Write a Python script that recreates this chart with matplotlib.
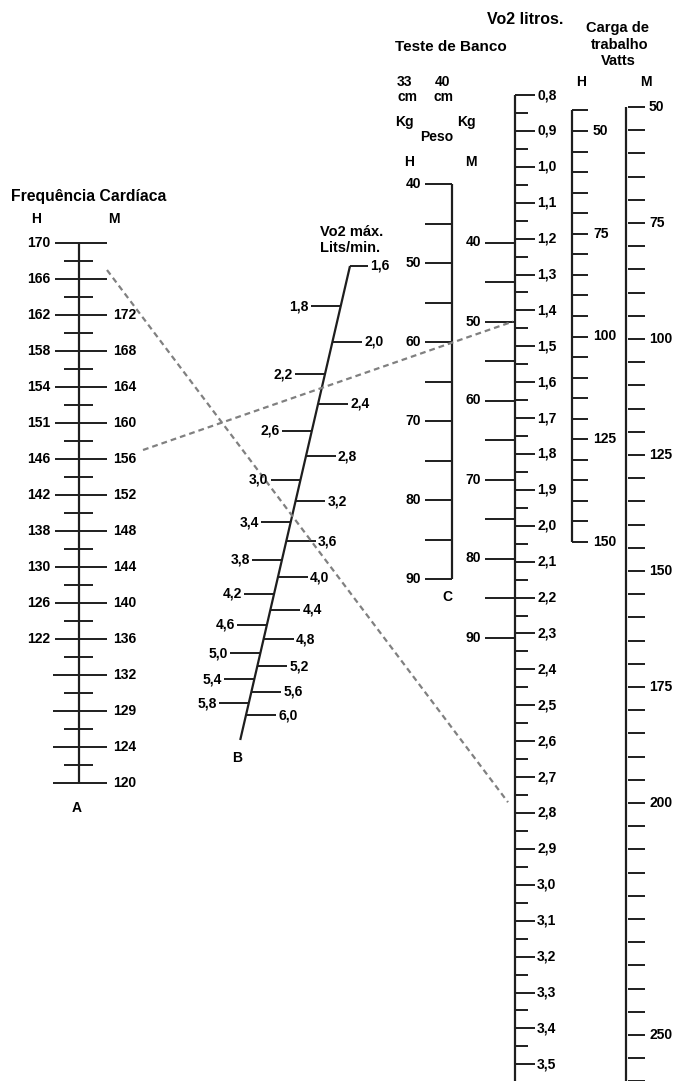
import numpy as np
import matplotlib.pyplot as plt

plt.rcParams['font.family'] = ['Liberation Sans', 'DejaVu Sans']
plt.rcParams['font.weight'] = 'bold'

# escala A - frequência cardíaca, um rótulo por traço principal
fc_homens = ['170', '166', '162', '158', '154', '151', '146', '142', '138', '130', '126', '122', '', '', '', '']
fc_mulheres = ['', '', '172', '168', '164', '160', '156', '152', '148', '144', '140', '136', '132', '129', '124', '120']

# escala B - VO2 máx (l/min)
vo2_max = [1.6, 1.8, 2.0, 2.2, 2.4, 2.6, 2.8, 3.0, 3.2, 3.4, 3.6, 3.8,
           4.0, 4.2, 4.4, 4.6, 4.8, 5.0, 5.2, 5.4, 5.6, 5.8, 6.0]

# escala C - peso (kg), teste de banco
peso_traco = [40, 45, 50, 55, 60, 65, 70, 75, 80, 85, 90]
peso_rotulo = [40, 50, 60, 70, 80, 90]

# VO2 litros
vo2_litros = [0.8, 0.9, 1.0, 1.1, 1.2, 1.3, 1.4, 1.5, 1.6, 1.7, 1.8, 1.9, 2.0, 2.1,
              2.2, 2.3, 2.4, 2.5, 2.6, 2.7, 2.8, 2.9, 3.0, 3.1, 3.2, 3.3, 3.4, 3.5]

# carga de trabalho (watts)
carga_h_rotulo = [50, 75, 100, 125, 150]
carga_m_rotulo = [50, 75, 100, 125, 150, 175, 200, 250]

# exemplos tracejados: (linha na escala A, leitura final)
exemplo1 = (0.75, 2.77)   # -> VO2 litros
exemplo2 = (5.75, 50)     # -> peso M

cor = '#1e1e1e'
fs = 10

fig = plt.figure(figsize=(6.79, 10.81), dpi=100)
ax = fig.add_axes([0, 0, 1, 1])
ax.set_xlim(0, 679)
ax.set_ylim(1081, 0)
ax.axis('off')


def seg(x0, x1, y0, y1, lw=1.4):
    ax.plot([x0, x1], [y0, y1], color=cor, lw=lw, solid_capstyle='butt')


def virg(v):
    return f'{v:.1f}'.replace('.', ',')


# ---- escala A
xa = 79
ya = lambda i: 243 + 36 * i
seg(xa, xa, ya(0), ya(15), lw=1.6)
for i in range(16):
    esq = 24 if fc_homens[i] else 26
    seg(xa - esq, xa + 28, ya(i), ya(i))
    if fc_homens[i]:
        ax.text(xa - 29, ya(i), fc_homens[i], ha='right', va='center', fontsize=fs)
    if fc_mulheres[i]:
        ax.text(xa + 34, ya(i), fc_mulheres[i], ha='left', va='center', fontsize=fs)
for i in range(15):
    seg(xa - 15, xa + 14, ya(i + 0.5), ya(i + 0.5))
ax.text(89, 197, 'Frequência Cardíaca', ha='center', va='center', fontsize=11.3)
ax.text(36, 219, 'H', ha='center', va='center', fontsize=fs)
ax.text(114, 219, 'M', ha='center', va='center', fontsize=fs)
ax.text(77, 808, 'A', ha='center', va='center', fontsize=fs)

# ---- escala B (log, inclinada)
yb = lambda v: 266 + 449 * np.log(v / 1.6) / np.log(6.0 / 1.6)
xb = lambda y: 350 - 0.2316 * (y - 266)
seg(xb(266), xb(740), 266, 740, lw=1.6)
for k, v in enumerate(vo2_max):
    y = yb(v)
    x = xb(y)
    if k == 0:
        seg(x, x + 18, y, y)
        ax.text(x + 20, y, virg(v), ha='left', va='center', fontsize=fs)
    elif k % 2:
        seg(x - 30, x, y, y)
        ax.text(x - 32, y, virg(v), ha='right', va='center', fontsize=fs)
    else:
        seg(x, x + 30, y, y)
        ax.text(x + 32, y, virg(v), ha='left', va='center', fontsize=fs)
ax.text(320, 232, 'Vo2 máx.', ha='left', va='center', fontsize=10.5)
ax.text(320, 248, 'Lits/min.', ha='left', va='center', fontsize=10.5)
ax.text(237, 758, 'B', ha='center', va='center', fontsize=fs)

# ---- escala C (peso H, 33 cm)
xc = 452
yc = lambda kg: 184 + 7.9 * (kg - 40)
seg(xc, xc, yc(40), yc(90), lw=1.6)
for kg in peso_traco:
    seg(xc - 27, xc, yc(kg), yc(kg))
for kg in peso_rotulo:
    ax.text(xc - 31, yc(kg), str(kg), ha='right', va='center', fontsize=fs)
ax.text(447, 597, 'C', ha='center', va='center', fontsize=fs)

# ---- peso M (40 cm) e VO2 litros
xl = 515
yp = lambda kg: 242.5 + 7.9 * (kg - 40)
for kg in peso_traco:
    seg(xl - 30, xl, yp(kg), yp(kg))
for kg in peso_rotulo:
    ax.text(xl - 34, yp(kg), str(kg), ha='right', va='center', fontsize=fs)

yl = lambda v: 95 + 359 * (v - 0.8)
seg(xl, xl, yl(0.8), 1081, lw=1.6)
for v in vo2_litros:
    seg(xl, xl + 20, yl(v), yl(v))
    ax.text(xl + 22, yl(v), virg(v), ha='left', va='center', fontsize=fs)
for v in np.arange(0.85, 3.6, 0.1):
    seg(xl, xl + 13, yl(v), yl(v))

# ---- carga de trabalho
xh = 572
yh = lambda w: 131 + 4.11 * (w - 50)
seg(xh, xh, yh(45), yh(150), lw=1.6)
for w in np.arange(45, 151, 5):
    seg(xh, xh + 16, yh(w), yh(w))
for w in carga_h_rotulo:
    ax.text(xh + 21, yh(w), str(w), ha='left', va='center', fontsize=fs)

xm = 626
ym = lambda w: 107 + 4.64 * (w - 50)
seg(xm, xm, ym(50), 1081, lw=1.6)
for w in np.arange(50, 261, 5):
    seg(xm + 2, xm + 19, ym(w), ym(w))
for w in carga_m_rotulo:
    ax.text(xm + 23, ym(w), str(w), ha='left', va='center', fontsize=fs)

# ---- cabeçalhos
ax.text(487, 20, 'Vo2 litros.', ha='left', va='center', fontsize=11.5)
ax.text(395, 47, 'Teste de Banco', ha='left', va='center', fontsize=11)
ax.text(618, 28, 'Carga de', ha='center', va='center', fontsize=10.5)
ax.text(620, 45, 'trabalho', ha='center', va='center', fontsize=10.5)
ax.text(618, 61, 'Vatts', ha='center', va='center', fontsize=10.5)
ax.text(581, 82, 'H', ha='center', va='center', fontsize=fs)
ax.text(646, 82, 'M', ha='center', va='center', fontsize=fs)
ax.text(397, 82, '33', ha='left', va='center', fontsize=fs)
ax.text(435, 82, '40', ha='left', va='center', fontsize=fs)
ax.text(397, 97, 'cm', ha='left', va='center', fontsize=fs)
ax.text(433, 97, 'cm', ha='left', va='center', fontsize=fs)
ax.text(395, 122, 'Kg', ha='left', va='center', fontsize=fs)
ax.text(457, 122, 'Kg', ha='left', va='center', fontsize=fs)
ax.text(420, 137, 'Peso', ha='left', va='center', fontsize=fs)
ax.text(409, 162, 'H', ha='center', va='center', fontsize=fs)
ax.text(471, 162, 'M', ha='center', va='center', fontsize=fs)

# ---- linhas de exemplo
tr = dict(color='#808080', lw=1.6, ls=(0, (2.6, 1.8)))
ax.plot([107, 508], [ya(exemplo1[0]), yl(exemplo1[1])], **tr)
ax.plot([143, 513], [ya(exemplo2[0]), yp(exemplo2[1])], **tr)

fig.savefig('out.png', dpi=100)
